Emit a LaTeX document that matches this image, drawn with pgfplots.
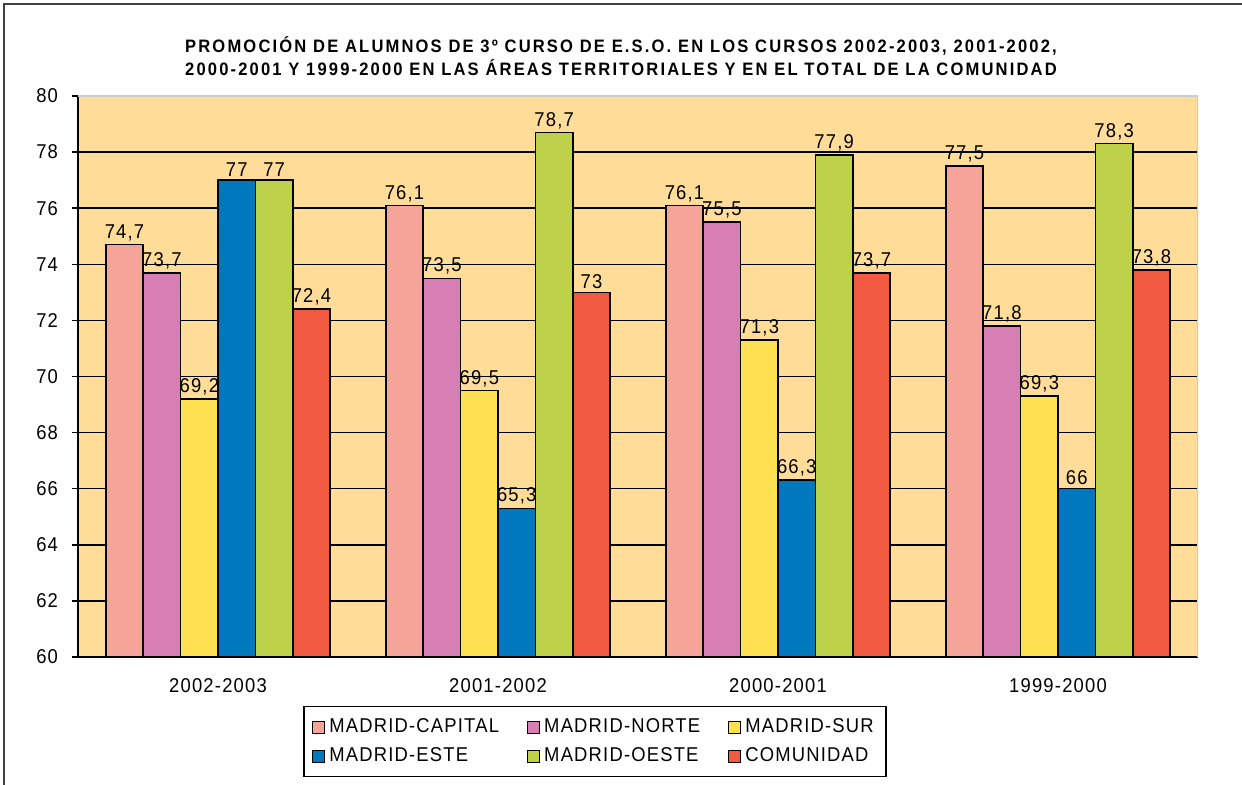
\documentclass[border=0pt]{standalone}
\usepackage{fontspec}
\setmainfont{Liberation Sans}[FakeStretch=0.92, LetterSpace=6]
\newfontfamily\titlefont{Liberation Sans}[FakeStretch=0.92, LetterSpace=12]
\usepackage{pgfplots}
\pgfplotsset{compat=1.18}

\definecolor{bgc}{HTML}{FFDD99}
\definecolor{ccap}{HTML}{F6A399}
\definecolor{cnor}{HTML}{D77FB5}
\definecolor{csur}{HTML}{FFE050}
\definecolor{cest}{HTML}{0078C0}
\definecolor{coes}{HTML}{BDD14B}
\definecolor{ccom}{HTML}{F15A40}

\begin{document}
\begin{tikzpicture}
\useasboundingbox (-39pt,-64pt) rectangle (582pt,328.5pt);
\draw[line width=1pt, black!75] (-37pt,-64pt) -- (-37pt,326.5pt) -- (582pt,326.5pt);
\node[align=center, font=\titlefont\fontsize{9}{11.5}\selectfont\bfseries] at (271.5pt,300.5pt)
  {PROMOCIÓN DE ALUMNOS DE 3º CURSO DE E.S.O. EN LOS CURSOS 2002-2003, 2001-2002,\\
   2000-2001 Y 1999-2000 EN LAS ÁREAS TERRITORIALES  Y EN EL TOTAL DE LA COMUNIDAD};
\begin{axis}[
  at={(0,0)}, anchor=south west,
  scale only axis, width=560pt, height=280.5pt,
  xmin=-0.5, xmax=3.5, ymin=60, ymax=80,
  ytick={60,62,...,80},
  xtick={0,1,2,3},
  xticklabels={2002-2003,2001-2002,2000-2001,1999-2000},
  ybar=0pt, bar width=0.1336,
  axis x line*=bottom, axis y line*=left,
  axis line style={black, line width=0.9pt},
  axis background/.style={fill=bgc},
  ymajorgrids, grid style={black, line width=0.75pt},
  tick align=outside, major tick length=3pt,
  tick style={black, line width=0.75pt},
  x tick style={draw=none},
  /pgf/number format/assume math mode=true,
  /pgf/number format/use comma,
  tick label style={font=\fontsize{10}{12}\selectfont},
  xticklabel style={yshift=-4pt},
  yticklabel style={xshift=-3.5pt},
  nodes near coords,
  every node near coord/.append style={font=\fontsize{10}{12}\selectfont, inner sep=1.5pt, text=black},
  legend image code/.code={\draw[#1, line width=0.6pt] (0pt,-3pt) rectangle (6pt,3pt);},
  legend columns=3,
  legend cell align=left,
  legend style={at={(0.4616,-0.0873)}, anchor=north, draw=black, line width=0.75pt,
    font=\fontsize{10}{12}\selectfont, row sep=2pt, inner sep=4pt,
    /tikz/every even column/.append style={column sep=12pt}},
]
\addplot[fill=ccap, draw=black, line width=0.8pt] coordinates {(0,74.7) (1,76.1) (2,76.1) (3,77.5)};
\addplot[fill=cnor, draw=black, line width=0.8pt] coordinates {(0,73.7) (1,73.5) (2,75.5) (3,71.8)};
\addplot[fill=csur, draw=black, line width=0.8pt] coordinates {(0,69.2) (1,69.5) (2,71.3) (3,69.3)};
\addplot[fill=cest, draw=black, line width=0.8pt] coordinates {(0,77) (1,65.3) (2,66.3) (3,66)};
\addplot[fill=coes, draw=black, line width=0.8pt] coordinates {(0,77) (1,78.7) (2,77.9) (3,78.3)};
\addplot[fill=ccom, draw=black, line width=0.8pt] coordinates {(0,72.4) (1,73) (2,73.7) (3,73.8)};
\legend{MADRID-CAPITAL, MADRID-NORTE, MADRID-SUR, MADRID-ESTE, MADRID-OESTE, COMUNIDAD}
\draw[black!20, line width=0.9pt] (rel axis cs:0,1) -- (rel axis cs:1,1) -- (rel axis cs:1,0);
\draw[black, line width=0.75pt] (axis cs:0.5,60) -- ++(0,-3pt);
\draw[black, line width=0.75pt] (axis cs:1.5,60) -- ++(0,-3pt);
\draw[black, line width=0.75pt] (axis cs:2.5,60) -- ++(0,-3pt);
\draw[black, line width=0.75pt] (axis cs:3.5,60) -- ++(0,-3pt);
\end{axis}
\end{tikzpicture}
\end{document}
